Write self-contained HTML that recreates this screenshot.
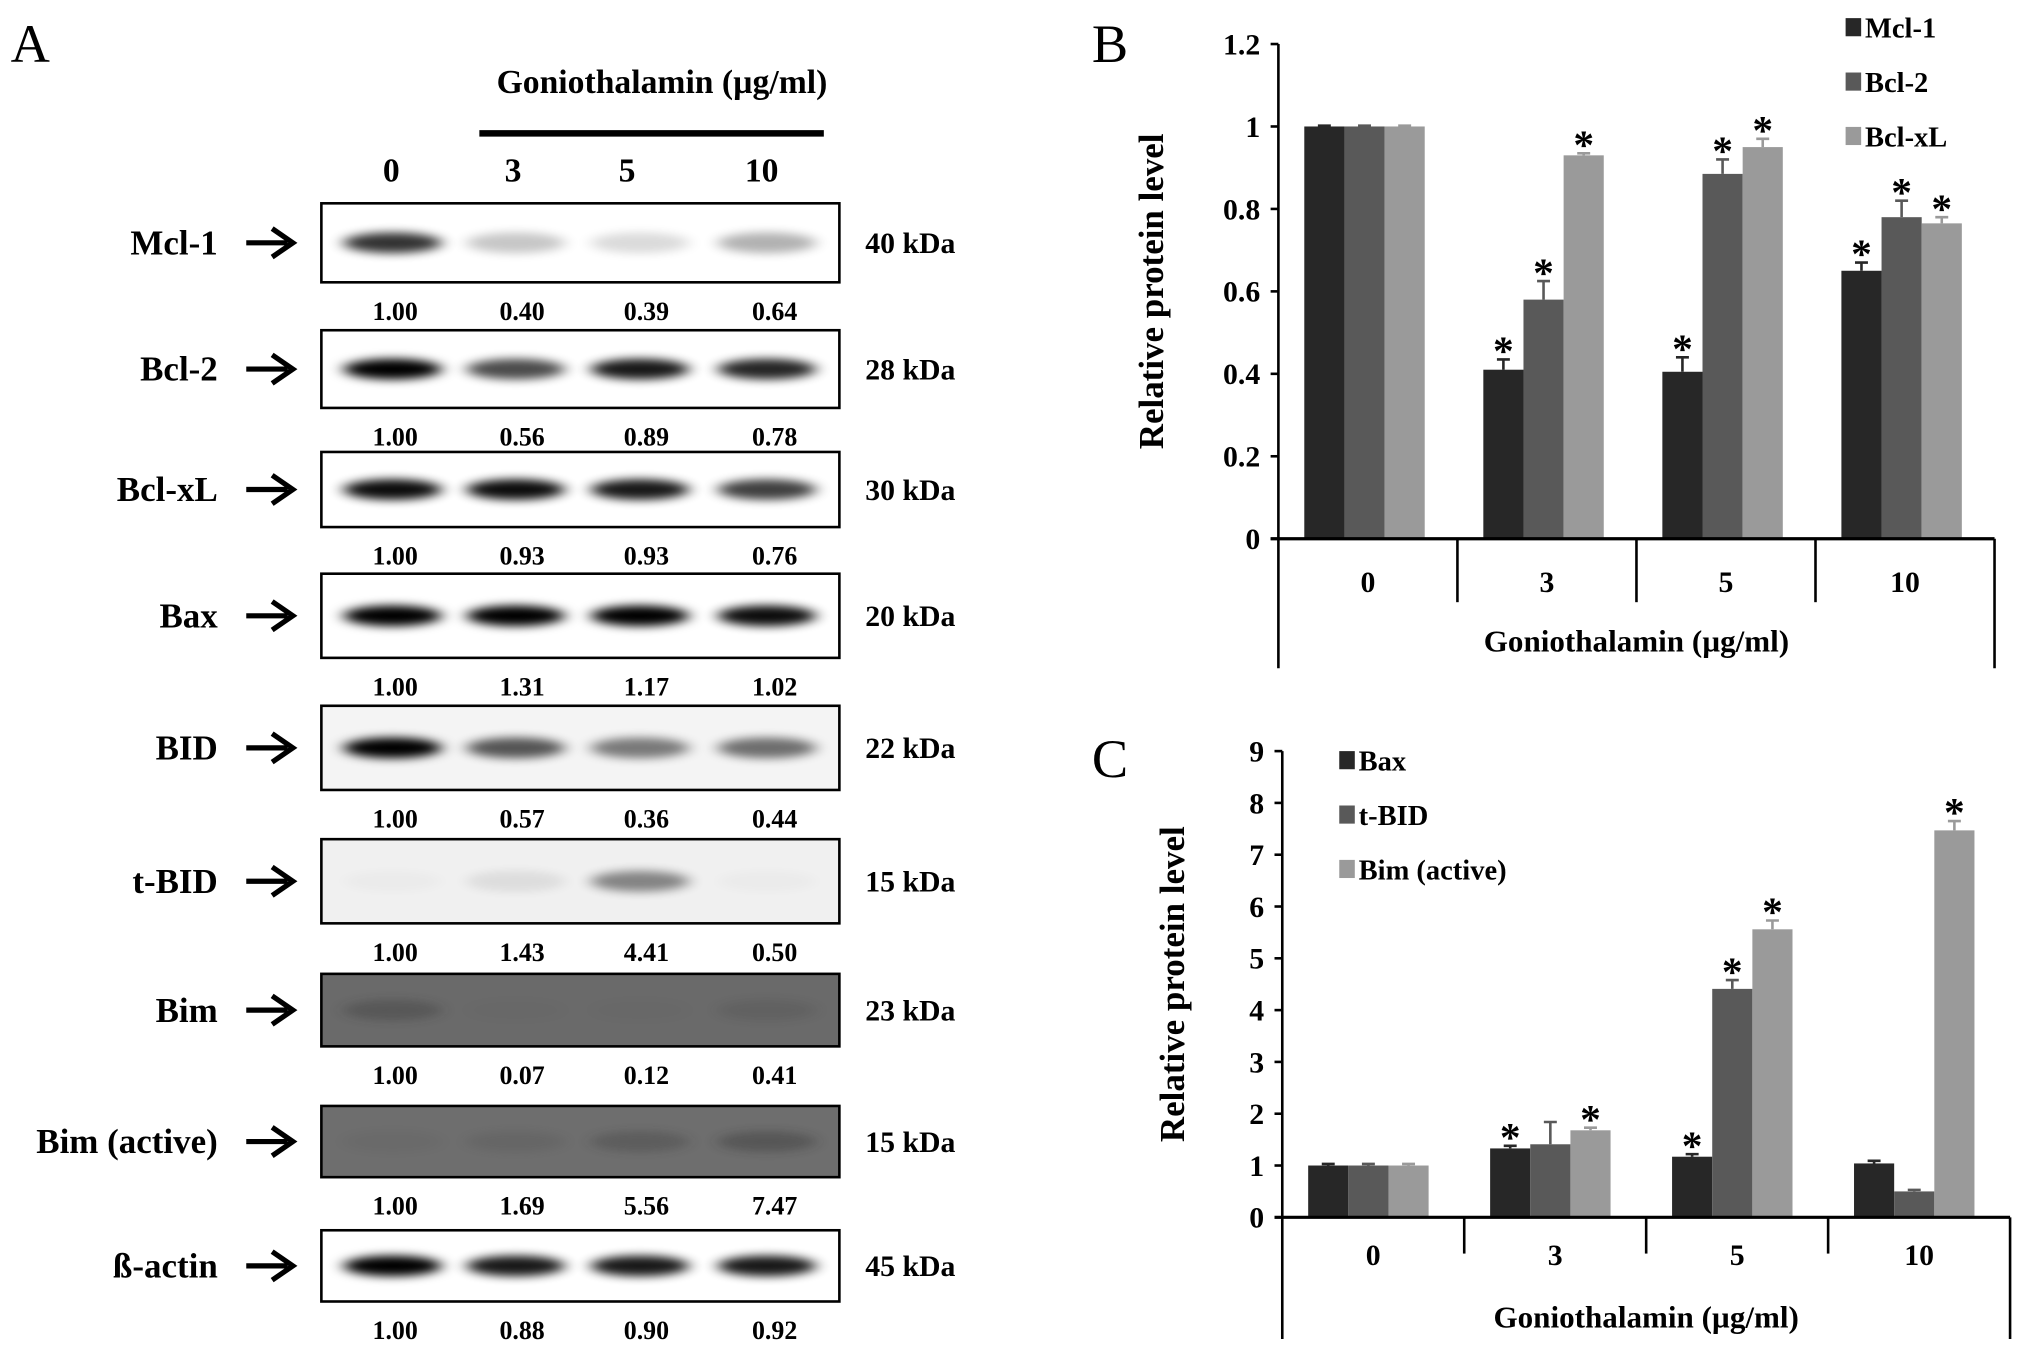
<!DOCTYPE html>
<html><head><meta charset="utf-8">
<style>
html,body{margin:0;padding:0;background:#fff;}
svg{display:block;font-family:"Liberation Serif",serif;font-weight:bold;}
</style></head>
<body>
<svg id="fig" width="2031" height="1352" viewBox="0 0 1568 1044" xmlns="http://www.w3.org/2000/svg">
<defs>
<filter id="blur" x="-50%" y="-100%" width="200%" height="300%"><feGaussianBlur stdDeviation="6 3.5"/></filter>
</defs>
<text x="8" y="48" font-size="42" font-weight="normal">A</text>
<text x="843" y="48" font-size="42" font-weight="normal">B</text>
<text x="843" y="600" font-size="42" font-weight="normal">C</text>
<g id="blot"></g>
<g id="chartB"></g>
<g id="chartC"></g>
</svg>
<script>
const NS="http://www.w3.org/2000/svg";
function mk(parent,tag,attrs,text){const e=document.createElementNS(NS,tag);for(const k in attrs)e.setAttribute(k,attrs[k]);if(text!==undefined)e.textContent=text;parent.appendChild(e);return e;}

// ---------- Panel A: blot ----------
const blotProteins=["Mcl-1","Bcl-2","Bcl-xL","Bax","BID","t-BID","Bim","Bim (active)","ß-actin"];
const blotKDa=["40 kDa","28 kDa","30 kDa","20 kDa","22 kDa","15 kDa","23 kDa","15 kDa","45 kDa"];
const blotValues=[["1.00","0.40","0.39","0.64"],["1.00","0.56","0.89","0.78"],["1.00","0.93","0.93","0.76"],["1.00","1.31","1.17","1.02"],["1.00","0.57","0.36","0.44"],["1.00","1.43","4.41","0.50"],["1.00","0.07","0.12","0.41"],["1.00","1.69","5.56","7.47"],["1.00","0.88","0.90","0.92"]];
const bandIntensity=[[0.8,0.22,0.14,0.3],[1,0.7,0.9,0.85],[0.95,0.95,0.9,0.75],[1,1,1,0.95],[1,0.65,0.5,0.55],[0.02,0.08,0.45,0.02],[0.25,0.02,0.02,0.12],[0.05,0.1,0.22,0.3],[1,0.9,0.9,0.9]];
const laneLabels=["0","3","5","10"];
const boxTop=[157,255,349,443,545,648,752,854,950];
const boxBot=[218,315,407,508,610,713,808,909,1005];
const boxBg=["#fff","#fff","#fff","#fff","#f4f4f4","#f0f0f0","#6a6a6a","#6e6e6e","#fff"];
const A=document.getElementById("blot");
let t;
t=mk(A,"text",{x:511,y:72,"font-size":26,"text-anchor":"middle"},"Goniothalamin (µg/ml)");


let ln=mk(A,"line",{x1:370,x2:636,y1:103,y2:103,stroke:"#000","stroke-width":5});


const laneX=[302,396,484,588];
laneLabels.forEach((l,i)=>{const e=mk(A,"text",{x:laneX[i],y:140,"font-size":26,"text-anchor":"middle"},l);

});
const bandX=[303,398,494,592];
const valX=[305,403,499,598];
blotProteins.forEach((p,r)=>{
  const top=boxTop[r],bot=boxBot[r],mid=(top+bot)/2;
  const g=mk(A,"g",{});
  
  
  const rc=mk(g,"rect",{x:248,y:top,width:400,height:bot-top,fill:boxBg[r],stroke:"#000","stroke-width":2});
  
  
  bandIntensity[r].forEach((v,i)=>{
    const dark=(boxBg[r]=="#fff"||boxBg[r][1]=="f")?"#000":"#222";
    const b=mk(g,"ellipse",{cx:bandX[i],cy:mid,rx:38,ry:8,fill:dark,opacity:v,filter:"url(#blur)"});
    
    
  });
  const lb=mk(g,"text",{x:168,y:mid+9,"font-size":27,"text-anchor":"end"},p);
  
  
  const ar=mk(g,"path",{d:`M190 ${mid} H222 M210 ${mid-11} L226 ${mid} L210 ${mid+11}`,stroke:"#000","stroke-width":4,fill:"none"});
  
  
  const kd=mk(g,"text",{x:668,y:mid+8,"font-size":23},blotKDa[r]);
  
  
  blotValues[r].forEach((v,i)=>{const e=mk(g,"text",{x:valX[i],y:bot+29,"font-size":20,"text-anchor":"middle"},v);
  
  });
});

// ---------- Chart B ----------
const bCategories=["0","3","5","10"];
const bSeriesNames=["Mcl-1","Bcl-2","Bcl-xL"];
const bMcl1=[1.0,0.41,0.405,0.65];
const bBcl2=[1.0,0.58,0.885,0.78];
const bBclxL=[1.0,0.93,0.95,0.765];
const bMcl1Err=[0.002,0.025,0.035,0.02];
const bBcl2Err=[0.002,0.045,0.035,0.04];
const bBclxLErr=[0.002,0.005,0.02,0.015];
const bStars=[[0,1,1,1],[0,1,1,1],[0,1,1,1]];
const bTicks=["0","0.2","0.4","0.6","0.8","1","1.2"];
const bTickVals=[0,0.2,0.4,0.6,0.8,1,1.2];

// ---------- Chart C ----------
const cCategories=["0","3","5","10"];
const cSeriesNames=["Bax","t-BID","Bim (active)"];
const cBax=[1.0,1.33,1.17,1.04];
const cTBID=[1.0,1.41,4.41,0.5];
const cBim=[1.0,1.68,5.56,7.47];
const cBaxErr=[0.03,0.05,0.05,0.05];
const cTBIDErr=[0.03,0.43,0.17,0.03];
const cBimErr=[0.03,0.05,0.17,0.18];
const cStars=[[0,1,1,0],[0,0,1,0],[0,1,1,1]];
const cTicks=["0","1","2","3","4","5","6","7","8","9"];
const cTickVals=[0,1,2,3,4,5,6,7,8,9];

const colors=["#272727","#595959","#9a9a9a"];

function drawChart(gid,cfg){
  const G=document.getElementById(gid);
  const y=v=>cfg.y0-(v-cfg.min)/(cfg.max-cfg.min)*(cfg.y0-cfg.yTop);
  const catW=(cfg.xEnd-cfg.x0)/cfg.cats.length;
  const x=i=>cfg.x0+i*catW;
  cfg.series.forEach((s,si)=>{
    s.forEach((v,ci)=>{
      const bx=x(ci)+cfg.off+si*cfg.bw;
      const r=mk(G,"rect",{x:bx,y:y(v),width:cfg.bw,height:y(0)-y(v),fill:colors[si]});
      
      
      const e=cfg.errs[si][ci];const cx=bx+cfg.bw/2;
      const eb=mk(G,"path",{d:`M${cx} ${y(v)} V${y(v+e)} M${cx-5} ${y(v+e)} H${cx+5}`,stroke:colors[si],"stroke-width":2,fill:"none"});
      
      
      if(cfg.stars[si][ci]){
        const st=mk(G,"text",{x:cx,y:y(v+e)+4,"font-size":32,"text-anchor":"middle"},"*");
        
        
      }
    });
  });
  const ya=mk(G,"line",{x1:cfg.x0,x2:cfg.x0,y1:cfg.yTop,y2:cfg.yBottomOuter,stroke:"#000","stroke-width":2});
  
  
  const xa=mk(G,"line",{x1:cfg.x0-6,x2:cfg.xEnd,y1:y(0),y2:y(0),stroke:"#000","stroke-width":2.5});
  
  
  const ro=mk(G,"line",{x1:cfg.xEnd,x2:cfg.xEnd,y1:y(0),y2:cfg.yBottomOuter,stroke:"#000","stroke-width":2});
  
  
  for(let i=1;i<cfg.cats.length;i++){
    const d=mk(G,"line",{x1:x(i),x2:x(i),y1:y(0),y2:cfg.yDiv,stroke:"#000","stroke-width":2});
    
    
  }
  cfg.tickVals.forEach((tv,i)=>{
    const tk=mk(G,"line",{x1:cfg.x0-6,x2:cfg.x0,y1:y(tv),y2:y(tv),stroke:"#000","stroke-width":2});
    
    
    const tl=mk(G,"text",{x:cfg.x0-14,y:y(tv)+8,"font-size":23,"text-anchor":"end"},cfg.ticks[i]);
    
    
  });
  cfg.cats.forEach((c,i)=>{
    const tl=mk(G,"text",{x:x(i)+catW/2,y:cfg.catY,"font-size":23,"text-anchor":"middle"},c);
    
    
  });
  const xt=mk(G,"text",{x:(cfg.x0+cfg.xEnd)/2,y:cfg.titleY,"font-size":24,"text-anchor":"middle"},"Goniothalamin (µg/ml)");
  
  
  const yt=mk(G,"text",{x:0,y:0,"font-size":27,"text-anchor":"middle",transform:`translate(${cfg.yTitleX},${cfg.yTitleY}) rotate(-90)`},"Relative protein level");
  
  
  cfg.names.forEach((n,i)=>{
    const lg=mk(G,"g",{});
    
    
    mk(lg,"rect",{x:cfg.legX,y:cfg.legY+i*cfg.legDy-8,width:12,height:14,fill:colors[i]});
    mk(lg,"text",{x:cfg.legX+15,y:cfg.legY+i*cfg.legDy+7,"font-size":22},n);
  });
}

drawChart("chartB",{cats:bCategories,names:bSeriesNames,series:[bMcl1,bBcl2,bBclxL],errs:[bMcl1Err,bBcl2Err,bBclxLErr],stars:bStars,
  ticks:bTicks,tickVals:bTickVals,min:0,max:1.2,x0:987,xEnd:1540,y0:416,yTop:34,off:20,bw:31,
  yDiv:465,yBottomOuter:516,catY:457,titleY:503,yTitleX:898,yTitleY:225,legX:1425,legY:22,legDy:42});
drawChart("chartC",{cats:cCategories,names:cSeriesNames,series:[cBax,cTBID,cBim],errs:[cBaxErr,cTBIDErr,cBimErr],stars:cStars,
  ticks:cTicks,tickVals:cTickVals,min:0,max:9,x0:990,xEnd:1552,y0:940,yTop:580,off:20,bw:31,
  yDiv:968,yBottomOuter:1034,catY:977,titleY:1025,yTitleX:914,yTitleY:760,legX:1034,legY:588,legDy:42});
</script>
</body></html>
